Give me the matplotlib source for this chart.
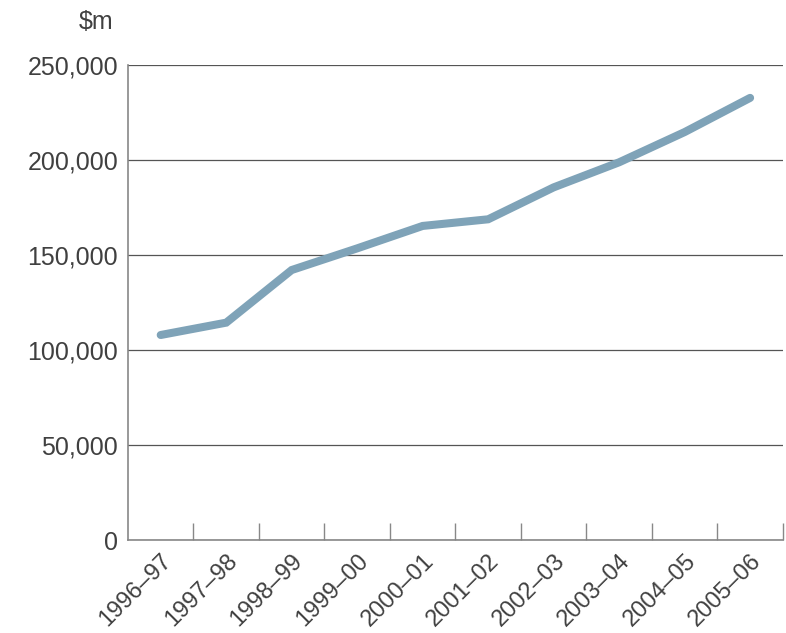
import matplotlib
matplotlib.use("Agg")
import matplotlib.pyplot as plt
from matplotlib.ticker import FuncFormatter

# years and values ($m)
years = ["1996–97", "1997–98", "1998–99", "1999–00", "2000–01",
         "2001–02", "2002–03", "2003–04", "2004–05", "2005–06"]
values = [107900, 114400, 142100, 153500, 165300,
          168800, 185600, 198800, 214700, 232700]
yticks = [0, 50000, 100000, 150000, 200000, 250000]

plt.rcParams['font.family'] = ['Liberation Sans', 'DejaVu Sans']
txt = '#404040'

fig = plt.figure(figsize=(7.86, 6.33), dpi=100)
ax = fig.add_axes([0.1628, 0.1469, 0.8332, 0.7504])

x = range(len(years))
ax.plot(x, values, color='#7fa3b8', lw=5.8, solid_capstyle='round',
        solid_joinstyle='miter', zorder=3)

ax.set_xlim(-0.5, len(years) - 0.5)
ax.set_ylim(0, 250000)
ax.set_yticks(yticks)
ax.yaxis.set_major_formatter(FuncFormatter(lambda v, p: f"{int(v):,}"))
ax.grid(axis='y', color='#555555', lw=0.9)
ax.set_axisbelow(True)

# category labels at centres, tick marks at boundaries
ax.set_xticks(list(x))
ax.set_xticklabels(years, rotation=45, ha='right', rotation_mode='anchor')
ax.set_xticks([i + 0.5 for i in range(len(years))], minor=True)
ax.tick_params(axis='x', which='major', length=0, pad=7, labelsize=17,
               labelcolor=txt)
ax.tick_params(axis='x', which='minor', length=12, direction='in',
               color='#888888', width=1)
ax.tick_params(axis='y', length=0, pad=7, labelsize=18, labelcolor=txt)

for s in ['top', 'right']:
    ax.spines[s].set_visible(False)
for s in ['left', 'bottom']:
    ax.spines[s].set_color('#888888')
    ax.spines[s].set_linewidth(1.2)

fig.text(0.1438, 0.965, "$m", ha='right', va='center', fontsize=18, color=txt)

fig.savefig("out.png", dpi=100)
